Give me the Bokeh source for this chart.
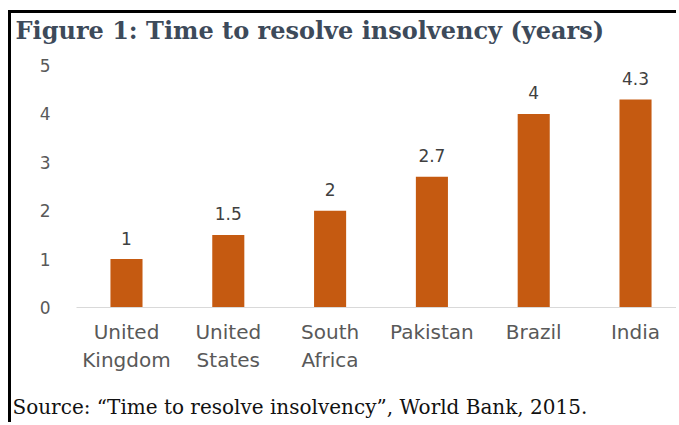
from bokeh.plotting import figure
from bokeh.models import Range1d, FixedTicker, ColumnDataSource, Title
from bokeh.core.properties import value
from bokeh.embed import file_html
from bokeh.resources import INLINE

# ---- data ----
countries = ["United\nKingdom", "United\nStates", "South\nAfrica", "Pakistan", "Brazil", "India"]
years = [1, 1.5, 2, 2.7, 4, 4.3]
year_labels = ["1", "1.5", "2", "2.7", "4", "4.3"]
y_ticks = [0, 1, 2, 3, 4, 5]

title_text = "Figure 1: Time to resolve insolvency (years)"
source_text = "Source: \u201cTime to resolve insolvency\u201d, World Bank, 2015."

idx = list(range(len(countries)))
src = ColumnDataSource(dict(x=idx, y=years, lab=year_labels))

p = figure(width=668, height=412, output_backend="svg", toolbar_location=None,
           x_range=Range1d(-0.491, 5.432), y_range=Range1d(0, 5),
           min_border_left=65, min_border_right=0, min_border_top=52, min_border_bottom=118)
p.styles = {"border-top": "3px solid black", "border-left": "3px solid black",
            "margin-left": "8px", "margin-top": "10px"}

p.outline_line_color = None
p.background_fill_color = "white"
p.border_fill_color = "white"
p.xgrid.grid_line_color = None
p.ygrid.grid_line_color = None

p.vbar(x="x", top="y", width=0.315, bottom=0, source=src,
       fill_color="#C55A11", line_color=None)
p.text(x="x", y="y", text="lab", source=src, y_offset=-21,
       text_align="center", text_baseline="alphabetic",
       text_font=value("DejaVu Sans"), text_font_size="17px", text_color="#404040")

# x axis
xa = p.xaxis[0]
xa.ticker = FixedTicker(ticks=idx)
xa.major_label_overrides = {i: c for i, c in zip(idx, countries)}
xa.axis_line_color = "#D9D9D9"
xa.axis_line_width = 1
xa.major_tick_line_color = None
xa.minor_tick_line_color = None
xa.major_tick_out = 0
xa.major_tick_in = 0
xa.major_label_standoff = 12
xa.major_label_text_font = "DejaVu Sans"
xa.major_label_text_font_size = "20px"
xa.major_label_text_color = "#595959"

# y axis
ya = p.yaxis[0]
ya.ticker = FixedTicker(ticks=y_ticks)
ya.axis_line_color = None
ya.major_tick_line_color = None
ya.minor_tick_line_color = None
ya.major_tick_out = 0
ya.major_tick_in = 0
ya.major_label_standoff = 26
ya.major_label_text_font = "DejaVu Sans"
ya.major_label_text_font_size = "17px"
ya.major_label_text_color = "#595959"

# spacer between frame and title
p.add_layout(Title(text=" ", text_font_size="1px", standoff=18), "above")

# title
p.title.text = title_text
p.title.text_font = "DejaVu Serif"
p.title.text_font_style = "bold"
p.title.text_font_size = "24px"
p.title.text_color = "#3D4A5A"
p.title.align = "left"
p.title.offset = -61
p.title.standoff = 0

# spacer between axis and source line
p.add_layout(Title(text=" ", text_font_size="1px", standoff=14), "below")
p.add_layout(Title(text=source_text, text_font="DejaVu Serif", text_font_size="20px",
                   text_font_style="normal", text_color="#111111", align="left",
                   offset=-64, standoff=0), "below")

open("out.html", "w").write(file_html(p, INLINE))
